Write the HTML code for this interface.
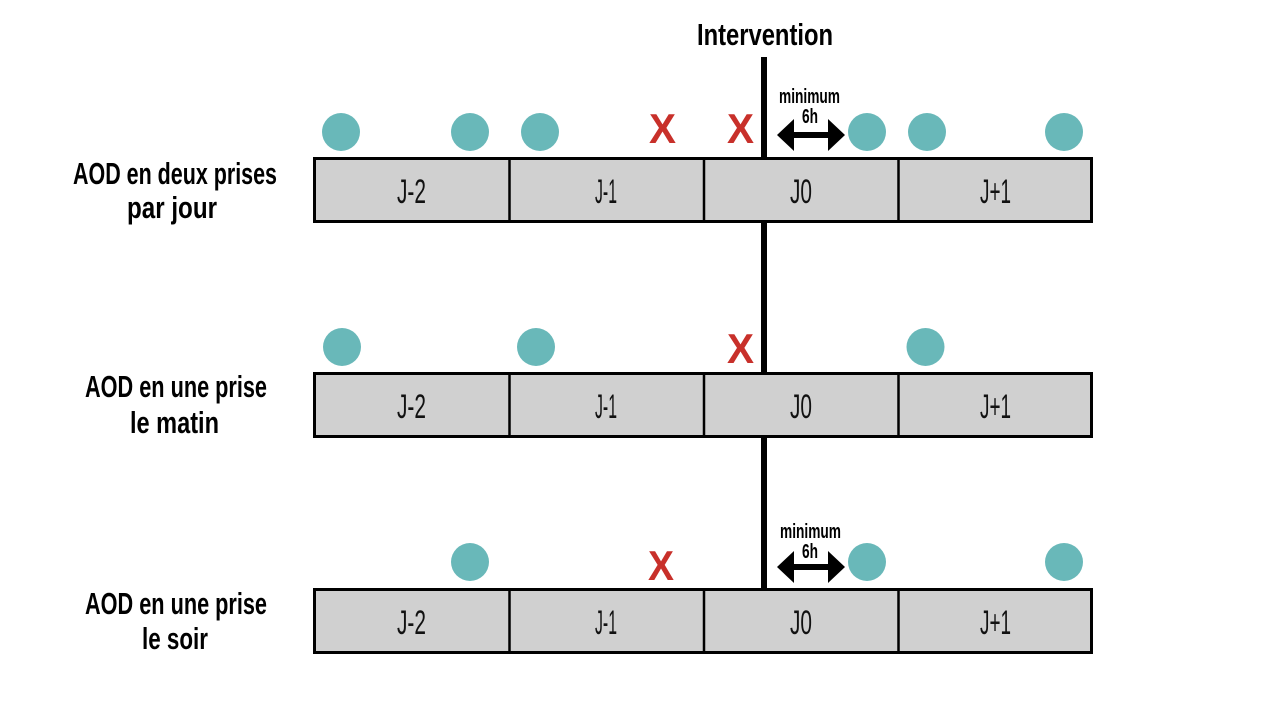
<!DOCTYPE html>
<html>
<head>
<meta charset="utf-8">
<style>
html,body{margin:0;padding:0;background:#fff;}
svg{display:block;}
.lbl{font-family:"Liberation Sans",sans-serif;font-weight:bold;font-size:31px;fill:#000;}
.cell{font-family:"Liberation Sans",sans-serif;font-weight:normal;font-size:34px;fill:#111;}
.x{font-family:"Liberation Sans",sans-serif;font-weight:bold;font-size:42px;fill:#c8302a;}
.sm{font-family:"Liberation Sans",sans-serif;font-weight:bold;font-size:20px;fill:#000;}
</style>
</head>
<body>
<svg width="1280" height="701" viewBox="0 0 1280 701" xmlns="http://www.w3.org/2000/svg">
<rect width="1280" height="701" fill="#fff"/>

<!-- vertical intervention line -->
<rect x="761" y="57" width="6" height="533" fill="#000"/>

<text class="lbl" x="697" y="45" textLength="136" lengthAdjust="spacingAndGlyphs">Intervention</text>

<!-- Row 1 -->
<g>
<rect x="314.5" y="158.5" width="777" height="63" fill="#d0d0d0" stroke="#000" stroke-width="3"/>
<line x1="509.5" y1="158" x2="509.5" y2="222" stroke="#000" stroke-width="2.5"/>
<line x1="704" y1="158" x2="704" y2="222" stroke="#000" stroke-width="2.5"/>
<line x1="898.5" y1="158" x2="898.5" y2="222" stroke="#000" stroke-width="2.5"/>
<text class="cell" x="397" y="203" textLength="29" lengthAdjust="spacingAndGlyphs">J-2</text>
<text class="cell" x="595" y="203" textLength="22" lengthAdjust="spacingAndGlyphs">J-1</text>
<text class="cell" x="790" y="203" textLength="22" lengthAdjust="spacingAndGlyphs">J0</text>
<text class="cell" x="980" y="203" textLength="31" lengthAdjust="spacingAndGlyphs">J+1</text>

<text class="lbl" x="73" y="184" textLength="204" lengthAdjust="spacingAndGlyphs">AOD en deux prises</text>
<text class="lbl" x="127" y="218" textLength="90" lengthAdjust="spacingAndGlyphs">par jour</text>

<circle cx="341" cy="132" r="19" fill="#69b8b9"/>
<circle cx="470" cy="132" r="19" fill="#69b8b9"/>
<circle cx="540" cy="132" r="19" fill="#69b8b9"/>
<circle cx="867" cy="132" r="19" fill="#69b8b9"/>
<circle cx="927" cy="132" r="19" fill="#69b8b9"/>
<circle cx="1064" cy="132" r="19" fill="#69b8b9"/>

<text class="x" x="649" y="143" textLength="27" lengthAdjust="spacingAndGlyphs">X</text>
<text class="x" x="727" y="143" textLength="27" lengthAdjust="spacingAndGlyphs">X</text>

<text class="sm" x="779" y="103" textLength="61" lengthAdjust="spacingAndGlyphs">minimum</text>
<text class="sm" x="802" y="123" textLength="16" lengthAdjust="spacingAndGlyphs">6h</text>
<rect x="790" y="132" width="42" height="6" fill="#000"/>
<polygon points="777,135 794,119 794,151" fill="#000"/>
<polygon points="845,135 828,119 828,151" fill="#000"/>
</g>

<!-- Row 2 -->
<g>
<rect x="314.5" y="373.5" width="777" height="63" fill="#d0d0d0" stroke="#000" stroke-width="3"/>
<line x1="509.5" y1="373" x2="509.5" y2="437" stroke="#000" stroke-width="2.5"/>
<line x1="704" y1="373" x2="704" y2="437" stroke="#000" stroke-width="2.5"/>
<line x1="898.5" y1="373" x2="898.5" y2="437" stroke="#000" stroke-width="2.5"/>
<text class="cell" x="397" y="418" textLength="29" lengthAdjust="spacingAndGlyphs">J-2</text>
<text class="cell" x="595" y="418" textLength="22" lengthAdjust="spacingAndGlyphs">J-1</text>
<text class="cell" x="790" y="418" textLength="22" lengthAdjust="spacingAndGlyphs">J0</text>
<text class="cell" x="980" y="418" textLength="31" lengthAdjust="spacingAndGlyphs">J+1</text>

<text class="lbl" x="85" y="397" textLength="182" lengthAdjust="spacingAndGlyphs">AOD en une prise</text>
<text class="lbl" x="130" y="433" textLength="89" lengthAdjust="spacingAndGlyphs">le matin</text>

<circle cx="342" cy="347" r="19" fill="#69b8b9"/>
<circle cx="536" cy="347" r="19" fill="#69b8b9"/>
<circle cx="925.5" cy="347" r="19" fill="#69b8b9"/>

<text class="x" x="727" y="363" textLength="27" lengthAdjust="spacingAndGlyphs">X</text>
</g>

<!-- Row 3 -->
<g>
<rect x="314.5" y="589.5" width="777" height="63" fill="#d0d0d0" stroke="#000" stroke-width="3"/>
<line x1="509.5" y1="589" x2="509.5" y2="653" stroke="#000" stroke-width="2.5"/>
<line x1="704" y1="589" x2="704" y2="653" stroke="#000" stroke-width="2.5"/>
<line x1="898.5" y1="589" x2="898.5" y2="653" stroke="#000" stroke-width="2.5"/>
<text class="cell" x="397" y="634" textLength="29" lengthAdjust="spacingAndGlyphs">J-2</text>
<text class="cell" x="595" y="634" textLength="22" lengthAdjust="spacingAndGlyphs">J-1</text>
<text class="cell" x="790" y="634" textLength="22" lengthAdjust="spacingAndGlyphs">J0</text>
<text class="cell" x="980" y="634" textLength="31" lengthAdjust="spacingAndGlyphs">J+1</text>

<text class="lbl" x="85" y="614" textLength="182" lengthAdjust="spacingAndGlyphs">AOD en une prise</text>
<text class="lbl" x="142" y="649" textLength="66" lengthAdjust="spacingAndGlyphs">le soir</text>

<circle cx="470" cy="562" r="19" fill="#69b8b9"/>
<circle cx="867" cy="562" r="19" fill="#69b8b9"/>
<circle cx="1064" cy="562" r="19" fill="#69b8b9"/>

<text class="x" x="648" y="580" textLength="26" lengthAdjust="spacingAndGlyphs">X</text>

<text class="sm" x="780" y="538" textLength="61" lengthAdjust="spacingAndGlyphs">minimum</text>
<text class="sm" x="802" y="558" textLength="16" lengthAdjust="spacingAndGlyphs">6h</text>
<rect x="790" y="564" width="42" height="6" fill="#000"/>
<polygon points="777,567 794,551 794,583" fill="#000"/>
<polygon points="845,567 828,551 828,583" fill="#000"/>
</g>
</svg>
</body>
</html>
